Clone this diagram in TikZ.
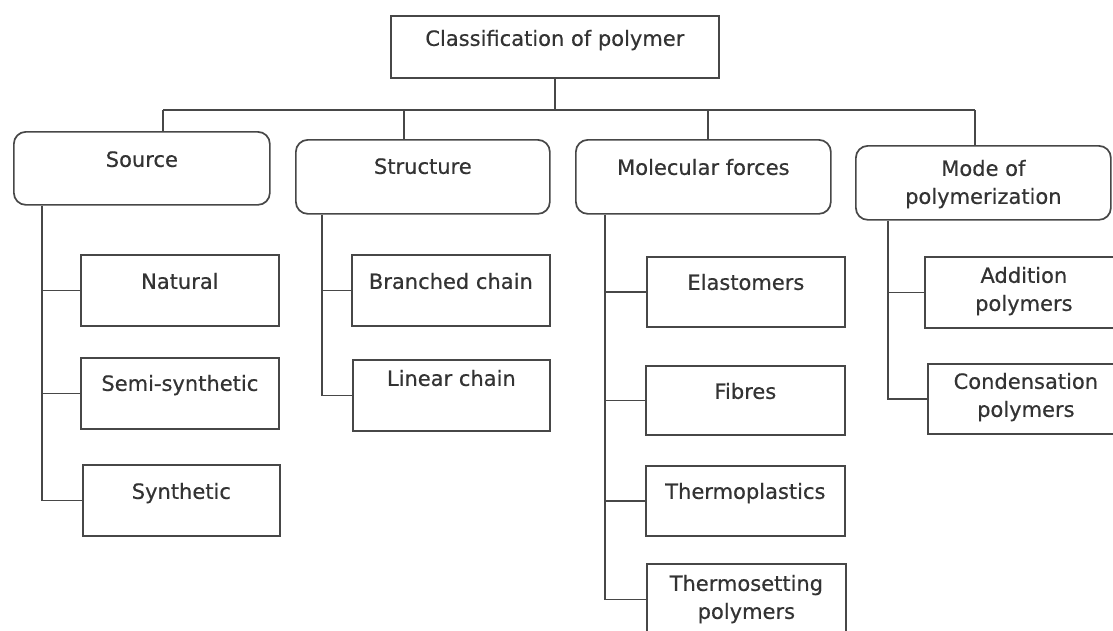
\documentclass[tikz,border=0pt]{standalone}
\usepackage{fontspec}
\newfontfamily\polyfont{DejaVu Sans}[FakeBold=0.5]
\usepackage{tikz}
\definecolor{PolyInk}{HTML}{333333}
\definecolor{PolyLine}{HTML}{474747}
\newcommand{\twolines}[2]{\begin{tabular}[t]{@{}c@{}}#1\\#2\end{tabular}}

\begin{document}
\begin{tikzpicture}[x=1pt,y=-1pt,
  leaf/.style={draw=PolyLine,line width=1.7pt,fill=white,anchor=north west,
    inner sep=0pt,align=center,text=PolyInk,font=\polyfont\fontsize{21}{28}\selectfont},
  head/.style={leaf,rounded corners=12pt},
  link/.style={draw=PolyLine,line width=1.5pt}
]
\path[use as bounding box,fill=white] (0,0) rectangle (1113,630);
\node[leaf,minimum width=328pt,text height=30pt,text depth=32pt] (top) at (390,15) {Classification of polymer};
% category boxes
\node[head,minimum width=256pt,text height=35pt,text depth=38pt] (src) at (13,131) {Source};
\node[head,minimum width=254pt,text height=34pt,text depth=40pt] (str) at (295,139) {Structure};
\node[head,minimum width=255pt,text height=35pt,text depth=39pt] (mol) at (575,139) {Molecular forces};
\node[head,minimum width=255pt,text height=30pt,text depth=44pt] (mode) at (855,145) {\twolines{Mode of}{polymerization}};
% leaves
\node[leaf,minimum width=198pt,text height=34pt,text depth=37pt] (nat) at (80,254) {Natural};
\node[leaf,minimum width=198pt,text height=33pt,text depth=38pt] (semi) at (80,357) {Semi-synthetic};
\node[leaf,minimum width=197pt,text height=34pt,text depth=37pt] (syn) at (82,464) {Synthetic};
\node[leaf,minimum width=198pt,text height=34pt,text depth=37pt] (bra) at (351,254) {Branched chain};
\node[leaf,minimum width=197pt,text height=26pt,text depth=45pt] (lin) at (352,359) {Linear chain};
\node[leaf,minimum width=198pt,text height=33pt,text depth=37pt] (ela) at (646,256) {Elastomers};
\node[leaf,minimum width=199pt,text height=33pt,text depth=36pt] (fib) at (645,365) {Fibres};
\node[leaf,minimum width=199pt,text height=33pt,text depth=37pt] (tpl) at (645,465) {Thermoplastics};
\node[leaf,minimum width=199pt,text height=27pt,text depth=44pt] (tset) at (646,563) {\twolines{Thermosetting}{polymers}};
\node[leaf,minimum width=198pt,text height=26pt,text depth=45pt] (add) at (924,256) {\twolines{Addition}{polymers}};
\node[leaf,minimum width=196pt,text height=25pt,text depth=45pt] (con) at (927,363) {\twolines{Condensation}{polymers}};
% bus from the title
\coordinate (dSrc) at (163,110);
\coordinate (dStr) at (404,110);
\coordinate (dMol) at (708,110);
\coordinate (dMode) at (975,110);
\draw[link] (top.south) -- (top.south |- dSrc);
\draw[link] (dSrc) -- (dMode);
\draw[link] (dSrc) -- (dSrc |- src.north);
\draw[link] (dStr) -- (dStr |- str.north);
\draw[link] (dMol) -- (dMol |- mol.north);
\draw[link] (dMode) -- (dMode |- mode.north);
% spines
\coordinate (sSrc) at ([xshift=29pt]src.south west);
\coordinate (sStr) at ([xshift=27pt]str.south west);
\coordinate (sMol) at ([xshift=30pt]mol.south west);
\coordinate (sMode) at ([xshift=33pt]mode.south west);
\draw[link] (sSrc) |- (syn.west);
\draw[link] (nat.west) -- (nat.west -| sSrc);
\draw[link] (semi.west) -- (semi.west -| sSrc);
\draw[link] (sStr) |- (lin.west);
\draw[link] (bra.west) -- (bra.west -| sStr);
\draw[link] (sMol) |- (tset.west);
\draw[link] (ela.west) -- (ela.west -| sMol);
\draw[link] (fib.west) -- (fib.west -| sMol);
\draw[link] (tpl.west) -- (tpl.west -| sMol);
\draw[link] (sMode) |- (con.west);
\draw[link] (add.west) -- (add.west -| sMode);
\end{tikzpicture}
\end{document}
